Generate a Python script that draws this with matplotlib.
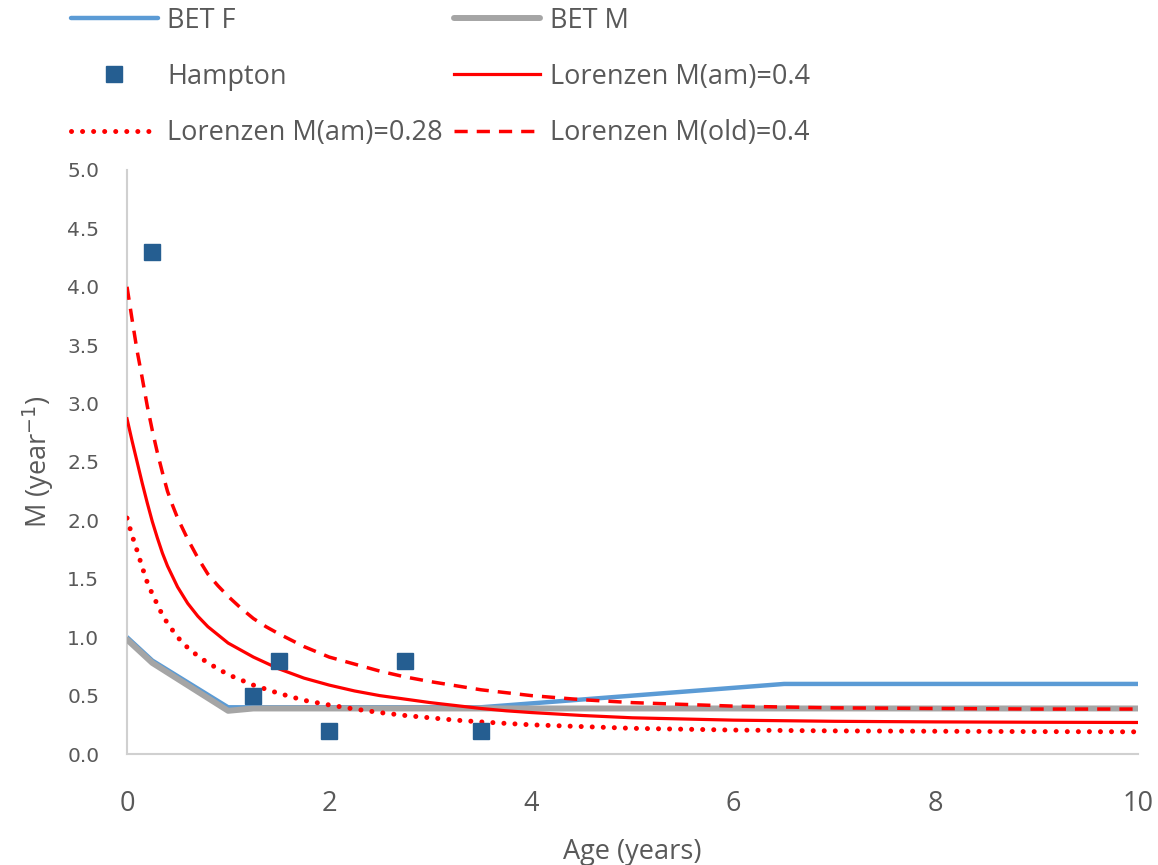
import matplotlib
matplotlib.use("Agg")
import matplotlib.pyplot as plt
from matplotlib import font_manager

# ---------------- data ----------------
bet_f_age = [0.0, 0.25, 1.0, 3.5, 6.5, 10.0]
bet_f_m = [1.0, 0.80, 0.40, 0.40, 0.60, 0.60]

bet_m_age = [0.0, 0.25, 1.0, 1.25, 10.0]
bet_m_m = [0.98, 0.78, 0.37, 0.39, 0.39]

hampton_age = [0.25, 1.25, 1.5, 2.0, 2.75, 3.5]
hampton_m = [4.3, 0.5, 0.8, 0.2, 0.8, 0.2]

lor_age = [0.0, 0.05, 0.1, 0.15, 0.2, 0.25, 0.3, 0.35, 0.4, 0.45, 0.5, 0.6, 0.7, 0.8,
           0.9, 1.0, 1.125, 1.25, 1.375, 1.5, 1.75, 2.0, 2.25, 2.5, 2.75, 3.0, 3.25,
           3.5, 3.75, 4.0, 4.5, 5.0, 6.0, 7.0, 8.0, 9.0, 10.0]
lor_am04 = [2.87, 2.68, 2.50, 2.32, 2.15, 1.99, 1.85, 1.72, 1.61, 1.52, 1.43, 1.29, 1.18, 1.09,
            1.02, 0.95, 0.89, 0.83, 0.78, 0.73, 0.65, 0.59, 0.54, 0.50, 0.47, 0.44, 0.415,
            0.39, 0.37, 0.355, 0.33, 0.31, 0.29, 0.28, 0.275, 0.272, 0.27]
lor_am028 = [2.02, 1.87, 1.74, 1.60, 1.47, 1.37, 1.28, 1.19, 1.12, 1.06, 1.00, 0.91, 0.84, 0.78,
             0.73, 0.68, 0.635, 0.59, 0.555, 0.52, 0.46, 0.42, 0.385, 0.355, 0.33, 0.31, 0.29,
             0.275, 0.262, 0.25, 0.235, 0.22, 0.205, 0.198, 0.195, 0.192, 0.19]
lor_old04 = [4.0, 3.72, 3.45, 3.22, 2.98, 2.77, 2.58, 2.41, 2.25, 2.13, 2.02, 1.84, 1.68, 1.54,
             1.44, 1.35, 1.25, 1.16, 1.09, 1.03, 0.92, 0.83, 0.77, 0.71, 0.66, 0.62, 0.585,
             0.55, 0.525, 0.50, 0.465, 0.44, 0.41, 0.395, 0.39, 0.385, 0.385]

x_ticks = [0, 2, 4, 6, 8, 10]
y_ticks = [0.0, 0.5, 1.0, 1.5, 2.0, 2.5, 3.0, 3.5, 4.0, 4.5, 5.0]

# ---------------- style ----------------
installed = {f.name for f in font_manager.fontManager.ttflist}
narrow = [f for f in ["Liberation Sans Narrow", "Open Sans", "DejaVu Sans"] if f in installed]
TXT = "#595959"

fig = plt.figure(figsize=(11.58, 8.65), dpi=100)
ax = fig.add_axes([0.1097, 0.1283, 0.9827 - 0.1097, 0.8035 - 0.1283])

l1, = ax.plot(bet_f_age, bet_f_m, color="#5B9BD5", lw=3.2, solid_capstyle="round",
              solid_joinstyle="round", label="BET F", zorder=2)
l2, = ax.plot(bet_m_age, bet_m_m, color="#A5A5A5", lw=4.3, solid_capstyle="round",
              solid_joinstyle="round", label="BET M", zorder=3)
l3, = ax.plot(hampton_age, hampton_m, ls="none", marker="s", ms=12, color="#255E91",
              markeredgecolor="#255E91", label="Hampton", zorder=6)
l4, = ax.plot(lor_age, lor_am04, color="#FF0000", lw=2.3, solid_joinstyle="round",
              label="Lorenzen M(am)=0.4", zorder=4)
l5, = ax.plot(lor_age, lor_am028, color="#FF0000", lw=3.6, ls=(0, (0.01, 2.2)),
              dash_capstyle="round", label="Lorenzen M(am)=0.28", zorder=4)
l6, = ax.plot(lor_age, lor_old04, color="#FF0000", lw=2.5, ls=(0, (3.8, 2.6)),
              label="Lorenzen M(old)=0.4", zorder=4)

ax.set_xlim(0, 10)
ax.set_ylim(0, 5)
ax.set_xticks(x_ticks)
ax.set_yticks(y_ticks)
ax.set_xticklabels([str(t) for t in x_ticks], family=narrow, fontsize=19.5, color=TXT)
ax.set_yticklabels([f"{t:.1f}" for t in y_ticks], family="DejaVu Sans", fontsize=14.5, color=TXT)
ax.tick_params(axis="both", length=0)
ax.tick_params(axis="x", pad=26)
ax.tick_params(axis="y", pad=20)

for s in ["top", "right"]:
    ax.spines[s].set_visible(False)
for s in ["left", "bottom"]:
    ax.spines[s].set_color("#D0D0D0")
    ax.spines[s].set_linewidth(1.5)

ax.set_xlabel("Age (years)", family=narrow, fontsize=19.5, color=TXT, labelpad=14)
ax.set_ylabel("M (year$^{-1}$)", family=narrow, fontsize=19.5, color=TXT, labelpad=8)

handles = [l1, l3, l5, l2, l4, l6]
labels = [h.get_label() for h in handles]
leg = fig.legend(handles, labels, ncol=2, loc="upper left",
                 bbox_to_anchor=(0.052, 1.005), frameon=False,
                 prop={"family": narrow, "size": 19.5},
                 handlelength=3.2, handletextpad=0.35, columnspacing=0.4,
                 labelspacing=1.05, borderaxespad=0)
for t in leg.get_texts():
    t.set_color(TXT)

fig.savefig("out.png", dpi=100)
